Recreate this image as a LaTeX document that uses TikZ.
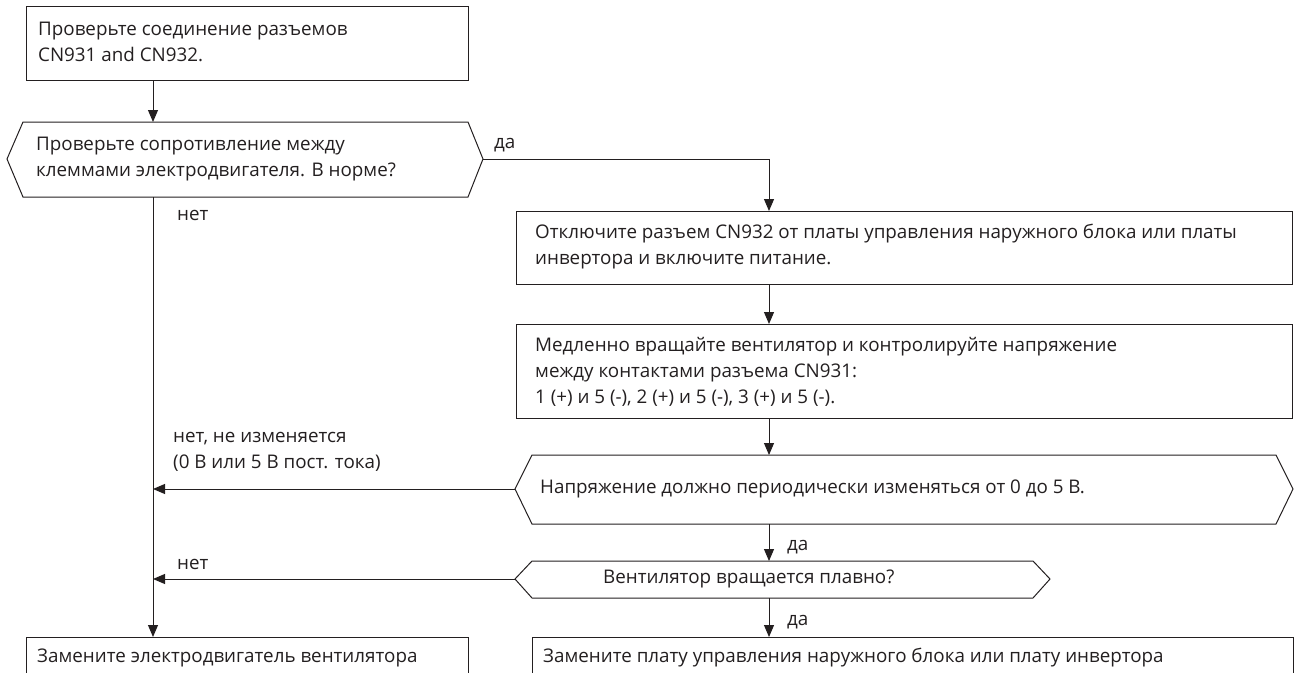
\documentclass[tikz,border=0pt]{standalone}
\usepackage{fontspec}
\setmainfont{Open Sans}
\usetikzlibrary{arrows.meta}
\definecolor{ink}{RGB}{35,31,32}

\begin{document}
\begin{tikzpicture}[x=1pt,y=-1pt,
  line/.style={line width=1pt,draw=ink},
  arr/.style={line,-{Triangle[length=12pt,width=10pt]}},
  box/.style={line,anchor=north west,inner sep=0pt},
  txt/.style={anchor=west,inner sep=0pt,align=left,text=ink,
    font=\fontsize{18.8}{26}\selectfont}]
  \useasboundingbox (0,0) rectangle (1298,672);

  % boxes
  \node[box,minimum width=442pt,minimum height=74pt] (chkconn) at (26,6) {};
  \node[box,minimum width=776pt,minimum height=73pt] (unplug) at (516,211) {};
  \node[box,minimum width=776pt,minimum height=94pt] (rotate) at (516,324) {};
  \node[box,minimum width=442pt,minimum height=60pt] (replmotor) at (26,637) {};
  \node[box,minimum width=761pt,minimum height=60pt] (replboard) at (532,637) {};

  % decisions
  \draw[line] (23,122) -- (468,122) -- (483,159) coordinate (chkres-e)
    -- (468,197) -- (23,197) -- (7,159) -- cycle;
  \coordinate (chkres-s) at (153,197);
  \draw[line] (532,455) -- (1276,455) -- (1293,489) -- (1276,524)
    -- (532,524) -- (515,489) coordinate (voltq-w) -- cycle;
  \coordinate (voltq-s) at (769,524);
  \draw[line] (532,561) -- (1033,561) -- (1050,579) -- (1033,598)
    -- (532,598) -- (515,579) coordinate (smoothq-w) -- cycle;
  \coordinate (smoothq-s) at (769,598);

  % texts
  \node[txt] (chkconn-t) at (38,42) {Проверьте соединение разъемов\\CN931 and CN932.};
  \node[txt] (chkres-t) at (36,159) {Проверьте сопротивление между\\клеммами электродвигателя. В норме?};
  \node[txt] (unplug-t) at (535,247) {Отключите разъем CN932 от платы управления наружного блока или платы\\инвертора и включите питание.};
  \node[txt] (rotate-t) at (535,372) {Медленно вращайте вентилятор и контролируйте напряжение\\между контактами разъема CN931:\\1 (+) и 5 (-), 2 (+) и 5 (-), 3 (+) и 5 (-).};
  \node[txt] (voltq-t) at (540,489) {Напряжение должно периодически изменяться от 0 до 5 В.};
  \node[txt] (smoothq-t) at (603,579) {Вентилятор вращается плавно?};
  \node[txt] (replmotor-t) at (37,658) {Замените электродвигатель вентилятора};
  \node[txt] (replboard-t) at (543,658) {Замените плату управления наружного блока или плату инвертора};

  % labels
  \node[txt] (yes1) at (494,145) {да};
  \node[txt] (no1) at (177,215) {нет};
  \node[txt] (no2) at (173,452) {нет, не изменяется\\(0 В или 5 В пост. тока)};
  \node[txt] (yes2) at (787,547) {да};
  \node[txt] (no3) at (177,564) {нет};
  \node[txt] (yes3) at (787,622) {да};

  % connectors
  \draw[arr] (chkconn.south -| chkres-s) -- (chkres-s |- 0,122);
  \draw[arr] (chkres-e) -| (unplug.north -| voltq-s);
  \draw[arr] (chkres-s) -- (chkres-s |- replmotor.north);
  \draw[arr] (unplug.south -| voltq-s) -- (rotate.north -| voltq-s);
  \draw[arr] (rotate.south -| voltq-s) -- (voltq-s |- 0,455);
  \draw[arr] (voltq-w) -- (voltq-w -| chkres-s);
  \draw[arr] (voltq-s) -- (voltq-s |- 0,561);
  \draw[arr] (smoothq-w) -- (smoothq-w -| chkres-s);
  \draw[arr] (smoothq-s) -- (smoothq-s |- replboard.north);
\end{tikzpicture}
\end{document}
